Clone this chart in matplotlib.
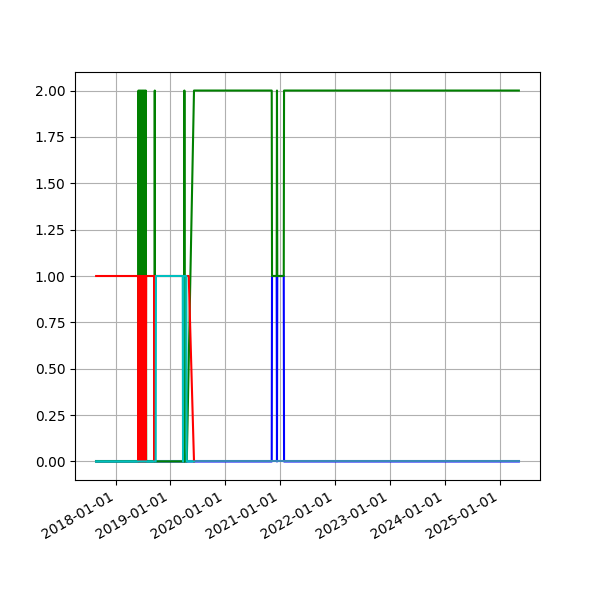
import matplotlib
matplotlib.use("Agg")
import matplotlib.pyplot as plt
import matplotlib.dates as mdates
import pandas as pd

# state series, each with its own sample dates
red_dates = ["2017-08-25", "2018-05-31",
             "2018-06-03", "2018-06-07", "2018-06-11", "2018-06-15", "2018-06-19",
             "2018-06-23", "2018-06-27", "2018-07-01", "2018-07-05", "2018-07-09",
             "2018-07-13", "2018-07-17", "2018-07-21", "2018-07-24",
             "2018-09-15", "2018-09-17", "2018-09-19",
             "2019-05-03", "2019-06-07"]
red_vals = [1, 1,
            0, 1, 0, 1, 0,
            1, 0, 1, 0, 1,
            0, 1, 0, 1,
            1, 0, 1,
            1, 0]

green_dates = ["2017-08-25", "2018-05-31",
               "2018-06-03", "2018-06-07", "2018-06-11", "2018-06-15", "2018-06-19",
               "2018-06-23", "2018-06-27", "2018-07-01", "2018-07-05", "2018-07-09",
               "2018-07-13", "2018-07-17", "2018-07-21", "2018-07-24",
               "2018-09-17", "2018-09-19", "2018-09-21",
               "2019-04-02", "2019-04-04", "2019-04-06",
               "2019-04-20", "2019-06-07",
               "2020-11-05", "2020-11-07",
               "2020-12-08", "2020-12-10", "2020-12-12",
               "2021-01-24", "2021-01-26", "2025-05-07"]
green_vals = [0, 0,
              2, 0, 2, 0, 2,
              0, 2, 0, 2, 0,
              2, 0, 2, 0,
              0, 2, 0,
              0, 2, 0,
              0, 2,
              2, 1,
              1, 2, 1,
              1, 2, 2]

cyan_dates = ["2017-08-25", "2018-09-25", "2018-09-27",
              "2019-03-24", "2019-03-26", "2019-03-30",
              "2019-04-17", "2019-04-19", "2019-06-07"]
cyan_vals = [0, 0, 1,
             1, 0, 1,
             1, 0, 0]

blue_dates = ["2017-08-25", "2020-11-05", "2020-11-07",
              "2020-12-08", "2020-12-10", "2020-12-12",
              "2021-01-24", "2021-01-26", "2025-05-07"]
blue_vals = [0, 0, 1,
             1, 0, 1,
             1, 0, 0]

base_dates = ["2017-08-25", "2025-05-07"]
base_vals = [0, 0]

fig, ax = plt.subplots(figsize=(6, 6), dpi=100)

ax.plot(pd.to_datetime(blue_dates), blue_vals, color="b")
ax.plot(pd.to_datetime(base_dates), base_vals, color="#3b88b8")
ax.plot(pd.to_datetime(green_dates), green_vals, color="g")
ax.plot(pd.to_datetime(red_dates), red_vals, color="r")
ax.plot(pd.to_datetime(cyan_dates), cyan_vals, color="c")

ax.xaxis.set_major_locator(mdates.YearLocator())
ax.xaxis.set_major_formatter(mdates.DateFormatter("%Y-%m-%d"))
ax.grid(True)
fig.autofmt_xdate()

fig.savefig("out.png")
